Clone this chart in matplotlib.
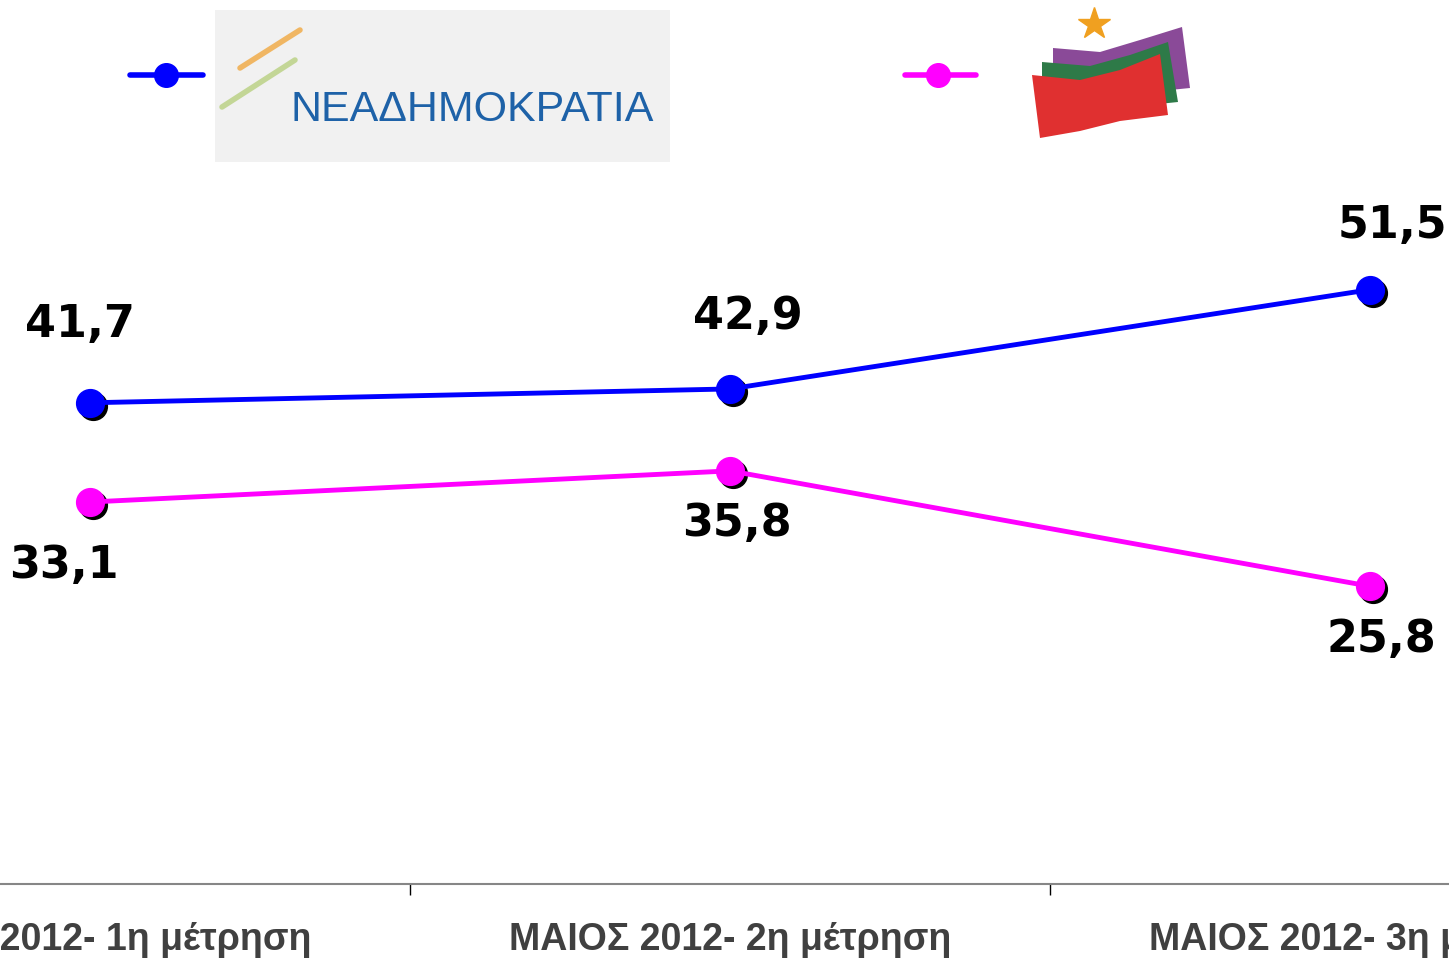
import matplotlib
matplotlib.use("Agg")
import matplotlib.pyplot as plt
from matplotlib.transforms import offset_copy
from matplotlib.patches import Rectangle, Polygon

# data
categories = ["ΜΑΙΟΣ 2012- 1η μέτρηση", "ΜΑΙΟΣ 2012- 2η μέτρηση", "ΜΑΙΟΣ 2012- 3η μέτρηση"]
nd = [41.7, 42.9, 51.5]
syriza = [33.1, 35.8, 25.8]
nd_offsets = [(-10, 78), (18, 72), (22, 64)]
syriza_offsets = [(-26, -63), (7, -53), (11, -53)]

W, H = 1449, 959
fig = plt.figure(figsize=(W / 100, H / 100), dpi=100)

# axes extends past the figure edges so the outer categories get cut like the original
ax = fig.add_axes([-230 / W, 75 / H, 1920 / W, 70 * 11.54 / H])
x = [0.5, 1.5, 2.5]

for vals, col, offs in [(nd, "#0000ff", nd_offsets), (syriza, "#ff00ff", syriza_offsets)]:
    shadow = offset_copy(ax.transData, fig=fig, x=3, y=-3, units="dots")
    ax.plot(x, vals, "o", color="black", markersize=20, transform=shadow, zorder=3)
    ax.plot(x, vals, "-o", color=col, lw=3.5, markersize=20, zorder=4)
    for xi, v, (dx, dy) in zip(x, vals, offs):
        ax.annotate(f"{v:.1f}".replace(".", ","), (xi, v), xytext=(dx, dy),
                    textcoords="offset pixels", ha="center", va="center",
                    fontsize=32, fontweight="bold", family="DejaVu Sans", color="black")

ax.set_xlim(0, 3)
ax.set_ylim(0, 70)
ax.set_xticks(x)
ax.set_xticklabels(categories, fontsize=27, fontweight="bold", color="#404040",
                   family=["Liberation Sans", "DejaVu Sans"])
ax.tick_params(axis="x", which="major", length=0, pad=27)
ax.set_xticks([1, 2], minor=True)
ax.tick_params(axis="x", which="minor", length=8, width=1, color="black")
ax.set_yticks([])
for s in ["left", "right", "top"]:
    ax.spines[s].set_visible(False)
ax.spines["bottom"].set_color("#868686")
ax.spines["bottom"].set_linewidth(1.5)

# legend / logos on a pixel overlay
ov = fig.add_axes([0, 0, 1, 1], zorder=5)
ov.set_xlim(0, W)
ov.set_ylim(H, 0)
ov.axis("off")
ov.patch.set_alpha(0)

ov.plot([130, 203], [75, 75], "-", color="#0000ff", lw=4, solid_capstyle="round")
ov.plot([166], [75], "o", color="#0000ff", markersize=17)
ov.plot([905, 976], [75, 75], "-", color="#ff00ff", lw=4, solid_capstyle="round")
ov.plot([938], [75], "o", color="#ff00ff", markersize=17)

ov.add_patch(Rectangle((215, 10), 455, 152, facecolor="#f1f1f1", edgecolor="none"))
ov.plot([222, 295], [107, 60], color="#b8d080", lw=4, alpha=0.8, solid_capstyle="round")
ov.plot([240, 300], [68, 30], color="#f0a840", lw=4, alpha=0.8, solid_capstyle="round")
ov.text(472, 110, "ΝΕΑΔΗΜΟΚΡΑΤΙΑ", ha="center", va="center", fontsize=31,
        color="#1e62a8", family=["Liberation Sans", "DejaVu Sans"])

ov.add_patch(Polygon([(1053, 48), (1100, 52), (1140, 40), (1182, 27), (1190, 88),
                      (1150, 92), (1053, 100)], facecolor="#8a4a98", edgecolor="none"))
ov.add_patch(Polygon([(1042, 62), (1090, 66), (1130, 55), (1168, 42), (1178, 102),
                      (1120, 108), (1042, 112)], facecolor="#2e7a48", edgecolor="none"))
ov.add_patch(Polygon([(1032, 75), (1080, 80), (1120, 70), (1160, 54), (1168, 115),
                      (1120, 121), (1080, 131), (1040, 138)], facecolor="#e03030", edgecolor="none"))
ov.plot([1094], [24], "*", color="#f0a020", markersize=24)

fig.savefig("out.png", dpi=100)
